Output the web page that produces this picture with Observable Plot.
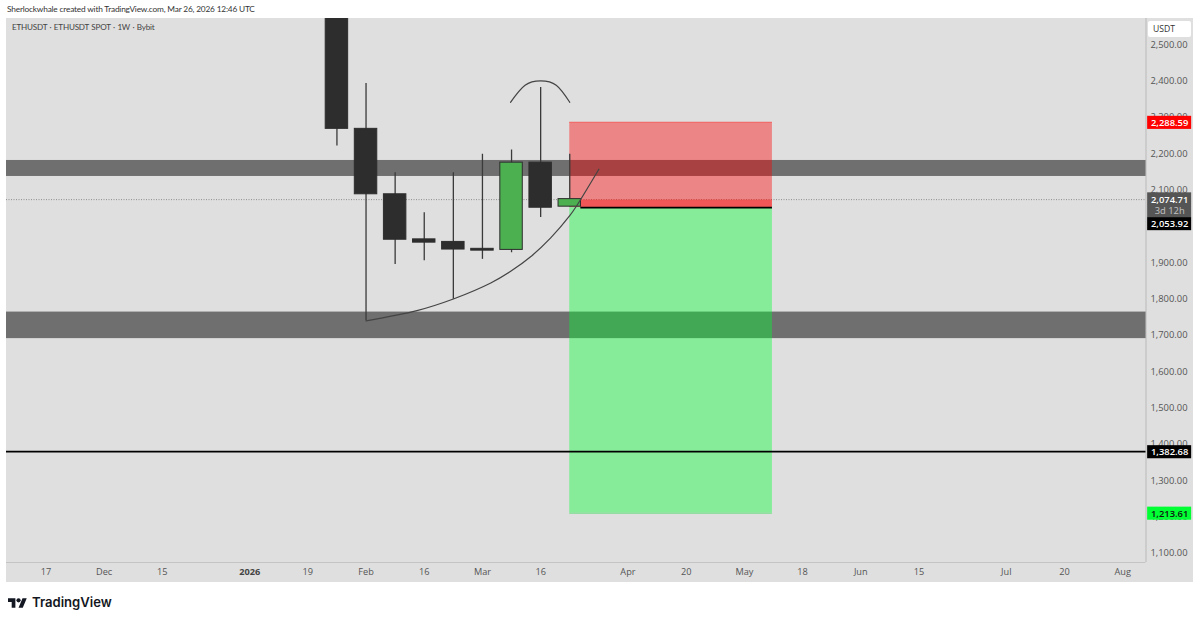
<!DOCTYPE html>
<html><head><meta charset="utf-8">
<script src="https://cdn.jsdelivr.net/npm/d3@7"></script>
<script src="https://cdn.jsdelivr.net/npm/@observablehq/plot@0.6"></script>
<style>
html,body{margin:0;padding:0;background:#fff;width:1200px;height:622px;overflow:hidden}
#wrap{position:relative;width:1200px;height:622px;font-family:"Lato",sans-serif}
#panel{position:absolute;left:6px;top:18px;width:1187px;height:564px;background:#dfdfdf}
#chart{position:absolute;left:0;top:0}
#chart svg{background:transparent!important}
.t{position:absolute;white-space:nowrap;color:#333}
#usdt{position:absolute;left:1148px;top:21px;width:43px;height:16px;background:#fff;border-radius:2px;font-family:"Open Sans",sans-serif;font-size:8.6px;line-height:16px;color:#333;text-indent:5px}
#logo{position:absolute;left:8px;top:596px}
</style></head><body>
<div id="wrap">
<div id="panel"></div>
<div id="chart"></div>
<div class="t" style="left:7px;top:3px;font-size:8.3px;line-height:12px;letter-spacing:-.18px">Sherlockwhale created with TradingView.com, Mar 26, 2026 12:46 UTC</div>
<div class="t" style="left:12px;top:21px;font-size:8.1px;line-height:13px;letter-spacing:-.2px;word-spacing:.6px;color:#444">ETHUSDT · ETHUSDT SPOT · 1W · Bybit</div>
<div id="usdt">USDT</div>
<svg id="logo" width="19" height="15" viewBox="0 0 36 28"><path d="M14 22H7V11H0V4h14v18zM28 22h-8l7.5-18h8L28 22z" fill="#131722"/><circle cx="20" cy="8" r="4" fill="#131722"/></svg>
<div class="t" style="left:32px;top:592px;font-size:13.1px;line-height:20px;font-weight:600;color:#131722;font-family:'Inter',sans-serif">TradingView</div>
</div>
<script>
const candleDates = ["2026-01-26","2026-02-02","2026-02-09","2026-02-16","2026-02-23","2026-03-02","2026-03-09","2026-03-16","2026-03-23"];
const opens  = [2650,2268,2088,1964,1957,1938,1935,2175,2053.92];
const highs  = [2800,2393,2147,2037,2147,2198,2210,2382,2198];
const lows   = [2221,1740,1895,1905,1799,1909,1927,2024,2053.92];
const closes = [2268,2088,1963,1955,1936,1933,2175,2051,2074.71];

const bandLows = [2137,1691];
const bandHighs = [2181,1764];

const boxStart = "2026-03-23";
const boxEnd = "2026-05-10T18:00Z";
const liveStart = "2026-03-25T16:00Z";
const stopPrice = 2288.59, entryPrice = 2053.92, targetPrice = 1213.61, lastPrice = 2074.71, levelPrice = 1382.68;

const bowlDates = ["2026-02-02","2026-02-14T06:00Z","2026-02-23","2026-03-04","2026-03-08T19:00Z","2026-03-13T14:00Z","2026-03-18T10:00Z","2026-03-23","2026-03-24T14:00Z","2026-03-30"];
const bowlPrices = [1740,1768,1800,1844,1876,1916,1968,2029,2055,2157];
const archDates = ["2026-03-08T18:00Z","2026-03-12T06:00Z","2026-03-16","2026-03-19T18:00Z","2026-03-23"];
const archPrices = [2341,2388,2400,2388,2341];

const yTicks = [1100,1200,1300,1400,1500,1600,1700,1800,1900,2000,2100,2200,2300,2400,2500];
const xTickDates = ["2025-11-17","2025-12-01","2025-12-15","2026-01-19","2026-02-02","2026-02-16","2026-03-02","2026-03-16","2026-04-06","2026-04-20","2026-05-04","2026-05-18","2026-06-01","2026-06-15","2026-07-06","2026-07-20","2026-08-03"];
const xTickLabels = ["17","Dec","15","19","Feb","16","Mar","16","Apr","20","May","18","Jun","15","Jul","20","Aug"];
const yearTick = "2026-01-05", yearLabel = "2026";

const tagPrices = [2288.59,2010,1382.68,1213.61];
const tagTexts = ["2,288.59","2,053.92","1,382.68","1,213.61"];
const tagFills = ["#ff0000","#000000","#000000","#00ff33"];
const tagInks = ["#fff","#fff","#fff","#111"];

const D = s => new Date(s);
const addDays = (s,n) => new Date(+D(s)+n*864e5);
const candles = candleDates.map((d,i)=>({d,o:opens[i],h:highs[i],l:lows[i],c:closes[i]}));
const bands = bandLows.map((l,i)=>({l,h:bandHighs[i]}));
const tags = tagPrices.map((p,i)=>({p,t:tagTexts[i],f:tagFills[i],k:tagInks[i]}));
const bowl = bowlDates.map((d,i)=>({d:D(d),p:bowlPrices[i]}));
const arch = archDates.map((d,i)=>({d:D(d),p:archPrices[i]}));
const xMin = D("2025-11-07T12:30Z"), xMax = D("2026-08-08T14:30Z");
const tagX1 = D("2026-08-09T00:00Z"), tagX2 = D("2026-08-19T14:00Z");
const lbl = new Map(xTickDates.map((d,i)=>[+D(d),xTickLabels[i]]));
const halfBody = 2.7;
const clip = {clip:true};
const yBottom = 1075.2, yTop = 2571.5;
const plot = Plot.plot({
  width:1200,height:622,marginLeft:6,marginRight:54.5,marginTop:18,marginBottom:60,
  style:{background:"transparent",fontFamily:"'Open Sans',sans-serif",overflow:"visible"},
  x:{type:"utc",domain:[xMin,xMax]},
  y:{type:"linear",domain:[yBottom,yTop]},
  marks:[
    Plot.axisY({anchor:"right",ticks:yTicks,tickFormat:d3.format(",.2f"),tickSize:0,tickPadding:41.5,textAnchor:"end",label:null,fontSize:9.4,fill:"#555"}),
    Plot.axisX({ticks:xTickDates.map(D),tickFormat:d=>lbl.get(+d),tickSize:0,tickPadding:6,label:null,fontSize:9.2,fill:"#555"}),
    Plot.axisX({ticks:[D(yearTick)],tickFormat:()=>yearLabel,tickSize:0,tickPadding:6,label:null,fontSize:9.2,fontWeight:"bold",fill:"#444"}),
    Plot.ruleX([xMax],{stroke:"#b9b9b9",strokeWidth:1}),
    Plot.ruleY([yBottom],{stroke:"#c4c4c4",strokeWidth:1}),
    Plot.ruleY([lastPrice],{stroke:"#777",strokeWidth:.8,strokeDasharray:"1 1.5",dy:.5}),
    Plot.rect(bands,{x1:xMin,x2:xMax,y1:"l",y2:"h",fill:"#000",fillOpacity:.5}),
    Plot.rect([0],{x1:D(boxStart),x2:D(boxEnd),y1:entryPrice,y2:stopPrice,fill:"#ff0000",fillOpacity:.4,dy:1}),
    Plot.rect([0],{x1:D(boxStart),x2:D(boxEnd),y1:targetPrice,y2:entryPrice,fill:"#00ff33",fillOpacity:.4,dy:1}),
    Plot.rect([0],{x1:D(liveStart),x2:D(boxEnd),y1:entryPrice,y2:lastPrice,fill:"#ff0000",fillOpacity:.35,dy:1}),
    Plot.ruleY([stopPrice],{x1:D(boxStart),x2:D(boxEnd),stroke:"#f26a6a",strokeWidth:1,dy:1}),
    Plot.ruleY([targetPrice],{x1:D(boxStart),x2:D(boxEnd),stroke:"#6fdc85",strokeWidth:1,dy:1}),
    Plot.ruleX(candles,{x:d=>D(d.d),y1:"l",y2:"h",stroke:"#3a3a3a",strokeWidth:1.3,...clip}),
    Plot.rect(candles,{x1:d=>addDays(d.d,-halfBody),x2:d=>addDays(d.d,halfBody),y1:d=>Math.min(d.o,d.c),y2:d=>Math.max(d.o,d.c),fill:d=>d.c>d.o?"#4caf50":"#2d2d2d",stroke:"#2d2d2d",strokeWidth:1,...clip}),
    Plot.ruleY([entryPrice],{x1:D(liveStart),x2:D(boxEnd),stroke:"#000",strokeWidth:1.6,dy:1}),
    Plot.ruleY([levelPrice],{x1:xMin,x2:xMax,stroke:"#000",strokeWidth:1.7,dy:1}),
    Plot.line(bowl,{x:"d",y:"p",curve:"catmull-rom",stroke:"#444",strokeWidth:1.2}),
    Plot.line(arch,{x:"d",y:"p",curve:"natural",stroke:"#444",strokeWidth:1.2}),
    Plot.rect([0],{x1:tagX1,x2:tagX2,y1:2023.6,y2:2092,fill:"#555"}),
    Plot.text([lastPrice],{x:tagX1,y:2072,text:()=>"2,074.71",dx:22,fill:"#fff",fontSize:9.4,fontWeight:600}),
    Plot.text(["3d 12h"],{x:tagX1,y:2043,text:d=>d,dx:22,fill:"#c4c4c4",fontSize:9.4}),
    Plot.rect(tags,{x1:tagX1,x2:tagX2,y1:d=>d.p-18,y2:d=>d.p+18,fill:"f",dy:1.5}),
    Plot.text(tags,{x:tagX1,y:"p",text:"t",dx:22,dy:1.5,fill:"k",fontSize:9.4,fontWeight:600})
  ]
});
document.getElementById("chart").appendChild(plot);
</script>
</body></html>
